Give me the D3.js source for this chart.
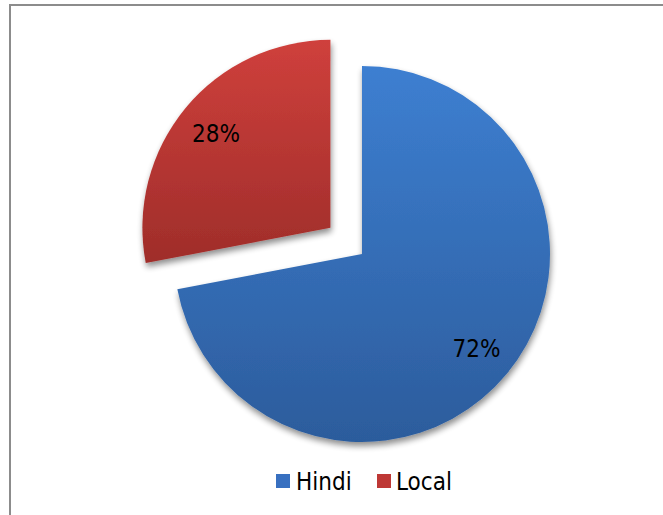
<!DOCTYPE html>
<html>
<head>
<meta charset="utf-8">
<script src="https://cdn.jsdelivr.net/npm/d3@7"></script>
<style>
  html, body { margin: 0; padding: 0; background: #fff; }
  svg { display: block; }
  text { font-family: "DejaVu Sans Condensed", "DejaVu Sans", Verdana, sans-serif; font-stretch: condensed; }
</style>
</head>
<body>
<svg id="chart" width="663" height="515"></svg>
<script>
// Language share
const categories = ["Hindi", "Local"];
const values = [72, 28];
const labels = ["72%", "28%"];
const explode = [0, 41];

const W = 663, H = 515;
const cx = 362, cy = 254, R = 188;

const svg = d3.select("#chart");
const defs = svg.append("defs");

// vertical gradients for each slice
const grads = [
  { id: "gHindi", top: "#3d7fd1", bottom: "#2c5c9c" },
  { id: "gLocal", top: "#cf403c", bottom: "#9f2d2a" }
];
grads.forEach(g => {
  const lg = defs.append("linearGradient")
    .attr("id", g.id).attr("x1", 0).attr("y1", 0).attr("x2", 0).attr("y2", 1);
  lg.append("stop").attr("offset", "0%").attr("stop-color", g.top);
  lg.append("stop").attr("offset", "100%").attr("stop-color", g.bottom);
});

const shadow = defs.append("filter").attr("id", "shadow")
  .attr("x", "-20%").attr("y", "-20%").attr("width", "140%").attr("height", "140%");
shadow.append("feGaussianBlur").attr("in", "SourceAlpha").attr("stdDeviation", 3).attr("result", "b");
shadow.append("feOffset").attr("in", "b").attr("dx", 1).attr("dy", 4).attr("result", "o");
shadow.append("feComponentTransfer").attr("in", "o").attr("result", "s")
  .append("feFuncA").attr("type", "linear").attr("slope", 0.45);
const merge = shadow.append("feMerge");
merge.append("feMergeNode").attr("in", "s");
merge.append("feMergeNode").attr("in", "SourceGraphic");

// chart frame
svg.append("rect")
  .attr("x", 10).attr("y", 5).attr("width", W + 20).attr("height", H + 20)
  .attr("fill", "none").attr("stroke", "#8c8c8c").attr("stroke-width", 2);

const pie = d3.pie().sort(null).value(d => d)(values);
const arc = d3.arc().innerRadius(0).outerRadius(R);

const colorScale = d3.scaleOrdinal().domain(categories).range(["url(#gHindi)", "url(#gLocal)"]);
const swatch = d3.scaleOrdinal().domain(categories).range(["#3870c0", "#be3835"]);

const g = svg.append("g").attr("transform", `translate(${cx},${cy})`);

const slices = g.selectAll("g.slice").data(pie).join("g")
  .attr("class", "slice")
  .attr("transform", (d, i) => {
    const mid = (d.startAngle + d.endAngle) / 2;
    return `translate(${Math.sin(mid) * explode[i]},${-Math.cos(mid) * explode[i]})`;
  });

slices.append("path")
  .attr("d", arc)
  .attr("fill", (d, i) => colorScale(categories[i]))
  .attr("filter", "url(#shadow)");

// value labels
const labelArc = d3.arc().innerRadius(R * 0.79).outerRadius(R * 0.79);
slices.append("text")
  .attr("transform", d => `translate(${labelArc.centroid(d)})`)
  .attr("text-anchor", "middle")
  .attr("dy", "0.36em")
  .attr("font-size", 24)
  .attr("fill", "#000")
  .text((d, i) => labels[i]);

// legend
const legend = svg.append("g").attr("transform", "translate(276,474)");
const items = [{ x: 0, tx: 20 }, { x: 101, tx: 120 }];
categories.forEach((c, i) => {
  legend.append("rect")
    .attr("x", items[i].x).attr("y", 0).attr("width", 14).attr("height", 14)
    .attr("fill", swatch(c));
  legend.append("text")
    .attr("x", items[i].tx).attr("y", 16)
    .attr("font-size", 24).attr("fill", "#000")
    .text(c);
});
</script>
</body>
</html>
